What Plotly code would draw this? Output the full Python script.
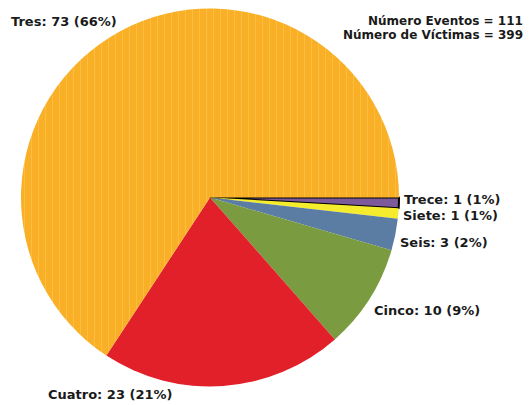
import plotly.graph_objects as go

categories = ["Trece", "Siete", "Seis", "Cinco", "Cuatro", "Tres"]
victims_per_event = [13, 7, 6, 5, 4, 3]
events = [1, 1, 3, 10, 23, 73]
pct_labels = ["1%", "1%", "2%", "9%", "21%", "66%"]
colors = ["#7D5A99", "#F4EC2C", "#5B7CA3", "#7A9B40", "#E2202A", "#F9B027"]
line_colors = ["#000000", "#F4EC2C", "#5B7CA3", "#7A9B40", "#E2202A", "#F9B027"]
line_widths = [2, 0, 0, 0, 0, 0]
pattern_shapes = ["", "", "", "", "", "|"]

total_events = sum(events)
total_victims = sum(v * n for v, n in zip(victims_per_event, events))

W, H = 530, 405
MT, MB = 8, 18
FONT = dict(family="DejaVu Sans", size=13, color="#1a1a1a", weight="bold")
TFONT = dict(family="DejaVu Sans", size=12, color="#1a1a1a", weight="bold")


def py2paper(py):
    return 1 - (py - MT) / (H - MT - MB)


fig = go.Figure(go.Pie(
    labels=categories,
    values=events,
    customdata=pct_labels,
    textinfo="none",
    sort=False,
    direction="clockwise",
    rotation=90,
    marker=dict(
        colors=colors,
        line=dict(color=line_colors, width=line_widths),
        pattern=dict(shape=pattern_shapes, fillmode="overlay",
                     fgcolor="#FDD060", fgopacity=0.5, size=7, solidity=0.12),
    ),
    domain=dict(x=[21 / W, 399 / W], y=[0, 1]),
    showlegend=False,
    hovertemplate="%{label}: %{value} (%{customdata})<extra></extra>",
))

# label placement (pixel positions of label left edge / vertical centre)
label_px = {"Trece": (402, 199), "Siete": (401, 215), "Seis": (398, 242),
            "Cinco": (372, 310), "Cuatro": (46, 394), "Tres": (9, 21)}
for cat, n, p in zip(categories, events, pct_labels):
    px, py = label_px[cat]
    fig.add_annotation(
        text=f"{cat}: {n} ({p})", xref="paper", yref="paper",
        x=px / W, y=py2paper(py), xanchor="left", yanchor="middle",
        showarrow=False, font=FONT,
    )

for txt, py in [(f"Número Eventos = {total_events}", 21),
                (f"Número de Víctimas = {total_victims}", 35)]:
    fig.add_annotation(
        text=txt, xref="paper", yref="paper", x=525 / W, y=py2paper(py),
        xanchor="right", yanchor="middle", showarrow=False, font=TFONT,
    )

fig.update_layout(
    width=W, height=H,
    margin=dict(l=0, r=0, t=MT, b=MB),
    paper_bgcolor="white", plot_bgcolor="white",
)
fig.write_html("out.html", config={"displayModeBar": False},
               post_script="document.body.style.margin='0';")
